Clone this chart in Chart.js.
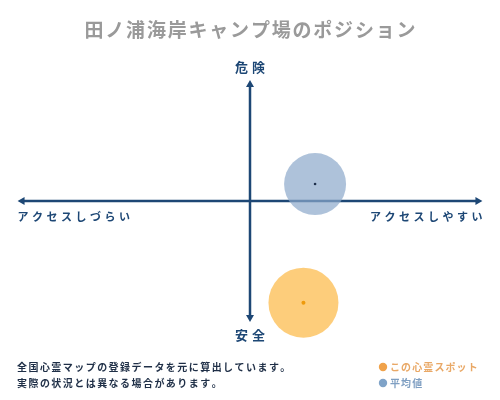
<!DOCTYPE html>
<html>
<head>
<meta charset="utf-8">
<script src="https://cdn.jsdelivr.net/npm/chart.js@4"></script>
<style>
  body { margin: 0; background: #fff; }
  #wrap { width: 500px; height: 400px; }
</style>
</head>
<body>
<div id="wrap"><canvas id="posChart" width="500" height="400"></canvas></div>
<script>
// データ
const seriesNames = ['この心霊スポット', '平均値'];
const accessX = [2.3, 2.8];     // アクセス (右ほどしやすい)
const dangerY = [-8.4, 1.4];    // 危険度 (上ほど危険)
const bubbleR = [35, 31];
const axisEnd = 10;             // 矢印の先端
const xRange = 9.25;            // バブル分の余白を引いた横軸の表示範囲
const yRange = 10;

const titleText = '田ノ浦海岸キャンプ場のポジション';
const axisTop = '危険', axisBottom = '安全';
const axisLeft = 'アクセスしづらい', axisRight = 'アクセスしやすい';
const noteLines = ['全国心霊マップの登録データを元に算出しています。', '実際の状況とは異なる場合があります。'];

const navy = '#1d4775';
const jp = '"Noto Sans CJK JP", "Noto Sans", sans-serif';

function spaced(ctx, text, x, y, gap, align) {
    // 一文字ずつ描いて字間をあける
    let w = 0;
    for (const ch of text) w += ctx.measureText(ch).width + gap;
    w -= gap;
    let cx = align === 'center' ? x - w / 2 : (align === 'right' ? x - w : x);
    ctx.textAlign = 'left';
    for (const ch of text) {
        ctx.fillText(ch, cx, y);
        cx += ctx.measureText(ch).width + gap;
    }
}

function axisPixels(chart) {
    const xs = chart.scales.x, ys = chart.scales.y;
    return {
        x0: xs.getPixelForValue(0), y0: ys.getPixelForValue(0),
        xl: xs.getPixelForValue(-axisEnd), xr: xs.getPixelForValue(axisEnd),
        yt: ys.getPixelForValue(axisEnd), yb: ys.getPixelForValue(-axisEnd)
    };
}

const quadrantPlugin = {
    id: 'quadrant',
    beforeDatasetsDraw(chart) {
        const ctx = chart.ctx;
        const { x0, y0, xl, xr, yt, yb } = axisPixels(chart);
        ctx.save();
        ctx.strokeStyle = navy;
        ctx.fillStyle = navy;
        ctx.lineWidth = 2.5;
        ctx.beginPath();
        ctx.moveTo(xl + 4, y0); ctx.lineTo(xr - 4, y0);
        ctx.moveTo(x0, yt + 4); ctx.lineTo(x0, yb - 4);
        ctx.stroke();
        const a = 7, h = 4;
        ctx.beginPath();
        ctx.moveTo(xl, y0); ctx.lineTo(xl + a, y0 - h); ctx.lineTo(xl + a, y0 + h); ctx.closePath();
        ctx.moveTo(xr, y0); ctx.lineTo(xr - a, y0 - h); ctx.lineTo(xr - a, y0 + h); ctx.closePath();
        ctx.moveTo(x0, yt); ctx.lineTo(x0 - h, yt + a); ctx.lineTo(x0 + h, yt + a); ctx.closePath();
        ctx.moveTo(x0, yb); ctx.lineTo(x0 - h, yb - a); ctx.lineTo(x0 + h, yb - a); ctx.closePath();
        ctx.fill();
        ctx.restore();
    },
    afterDraw(chart) {
        const ctx = chart.ctx;
        const { x0, y0, xl, xr, yt, yb } = axisPixels(chart);
        ctx.save();
        ctx.textBaseline = 'middle';

        // タイトル
        ctx.fillStyle = '#9a9a9a';
        ctx.font = 'bold 19px ' + jp;
        spaced(ctx, titleText, 250, 30, 1.8, 'center');

        // 軸ラベル
        ctx.fillStyle = navy;
        ctx.font = 'bold 13px ' + jp;
        spaced(ctx, axisTop, x0, yt - 13, 4, 'center');
        spaced(ctx, axisBottom, x0, yb + 13, 4, 'center');
        ctx.font = 'bold 11px ' + jp;
        spaced(ctx, axisLeft, xl, y0 + 16, 3.5, 'left');
        spaced(ctx, axisRight, xr, y0 + 16, 3.5, 'right');

        // 注記
        ctx.fillStyle = '#1f2f47';
        ctx.font = 'bold 10px ' + jp;
        spaced(ctx, noteLines[0], 17, 367, 1.45, 'left');
        spaced(ctx, noteLines[1], 17, 383, 1.45, 'left');

        // 凡例
        const legendColors = ['#f0a24a', '#7fa3c8'];
        const legendText = ['#e9a866', '#7f9fc2'];
        seriesNames.forEach((name, i) => {
            const ly = 367 + i * 16;
            ctx.fillStyle = legendColors[i];
            ctx.beginPath();
            ctx.arc(383, ly, 4.2, 0, Math.PI * 2);
            ctx.fill();
            ctx.fillStyle = legendText[i];
            ctx.font = 'bold 10px ' + jp;
            spaced(ctx, name, 390, ly, 1.1, 'left');
        });
        ctx.restore();
    }
};

const bubbleColors = ['rgba(253, 196, 100, 0.85)', 'rgba(140, 168, 203, 0.7)'];
const dotColors = ['#ee9a0c', '#1d2f4a'];
const dotR = [2, 1.3];

const datasets = [];
seriesNames.forEach((name, i) => {
    datasets.push({
        label: name + ' 中心',
        data: [{ x: accessX[i], y: dangerY[i], r: dotR[i] }],
        backgroundColor: dotColors[i],
        borderWidth: 0,
        clip: false
    });
    datasets.push({
        label: name,
        data: [{ x: accessX[i], y: dangerY[i], r: bubbleR[i] }],
        backgroundColor: bubbleColors[i],
        borderWidth: 0,
        clip: false
    });
});

new Chart(document.getElementById('posChart').getContext('2d'), {
    type: 'bubble',
    data: { datasets: datasets },
    options: {
        responsive: false,
        animation: false,
        layout: { padding: { left: 0, right: 0, top: 80, bottom: 78 } },
        scales: {
            x: { type: 'linear', min: -xRange, max: xRange, display: false },
            y: { type: 'linear', min: -yRange, max: yRange, display: false }
        },
        plugins: {
            legend: { display: false },
            title: { display: false },
            tooltip: { enabled: false }
        }
    },
    plugins: [quadrantPlugin]
});
</script>
</body>
</html>
